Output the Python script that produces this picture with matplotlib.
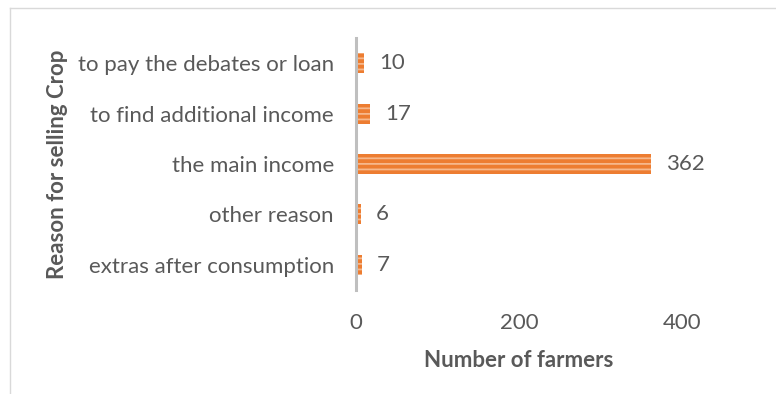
#!/usr/bin/env python3
# -*- coding: utf-8 -*-

"""Horizontal bar chart: reasons farmers give for selling their crop."""

import matplotlib.pyplot as plt
from matplotlib.lines import Line2D

REASONS = [
    "extras after consumption",
    "other reason",
    "the main income",
    "to find additional income",
    "to pay the debates or loan",
]
FARMERS = [7, 6, 362, 17, 10]
X_TICKS = [0, 200, 400]

TEXT_GREY = "#595959"
BAR_ORANGE = "#ED7D31"
STRIPE = "#F6B88C"
FONT = ["Lato", "DejaVu Sans"]
SIZE = 16


def main():
    """Main function."""
    plt.rcParams["font.family"] = FONT
    plt.rcParams["hatch.linewidth"] = 1.3
    fig = plt.figure(figsize=(7.76, 3.94), dpi=100)
    ax = fig.add_axes([356 / 776, 104 / 394, 326 / 776, 252 / 394])

    bars = ax.barh(range(len(REASONS)), FARMERS, height=0.4,
                   color=BAR_ORANGE, edgecolor=STRIPE, linewidth=0,
                   hatch="---")
    ax.bar_label(bars, labels=[str(v) for v in FARMERS], padding=11,
                 fontsize=SIZE, color=TEXT_GREY)

    ax.set_xlim(0, 400)
    ax.set_ylim(-0.5, len(REASONS) - 0.5)
    ax.set_xticks(X_TICKS)
    ax.set_yticks(range(len(REASONS)))
    ax.set_yticklabels(REASONS)
    ax.tick_params(axis="both", length=0, labelsize=SIZE, colors=TEXT_GREY)
    ax.tick_params(axis="x", pad=16.5)
    ax.tick_params(axis="y", pad=16)

    for side in ("top", "right", "bottom"):
        ax.spines[side].set_visible(False)
    ax.spines["left"].set_color("#BFBFBF")
    ax.spines["left"].set_linewidth(2.2)

    ax.set_xlabel("Number of farmers", fontsize=SIZE, fontweight="bold",
                  color=TEXT_GREY, labelpad=12)
    fig.text(57 / 776, 1 - 164 / 394, "Reason for selling Crop", rotation=90,
             ha="center", va="center", fontsize=SIZE, fontweight="bold",
             color=TEXT_GREY)

    # light chart-area border along the top and left edges
    border = dict(color="#D9D9D9", linewidth=1.0, transform=fig.transFigure)
    fig.add_artist(Line2D([10 / 776, 1], [1 - 8 / 394] * 2, **border))
    fig.add_artist(Line2D([10 / 776] * 2, [0, 1 - 8 / 394], **border))

    fig.savefig("out.png", dpi=100)


if __name__ == "__main__":
    main()
